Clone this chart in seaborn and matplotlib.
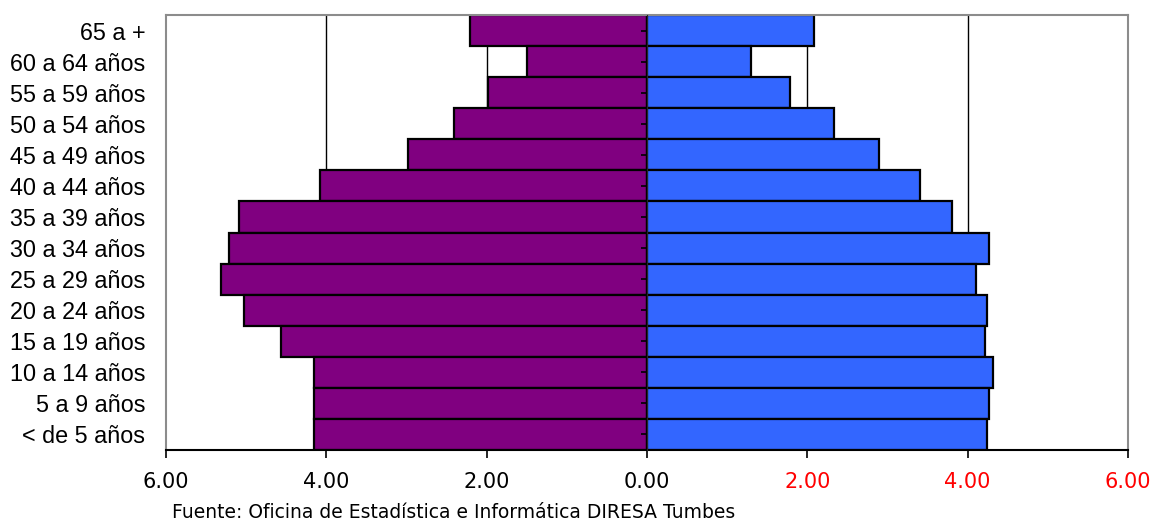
import matplotlib
matplotlib.use("Agg")
import matplotlib.pyplot as plt
import seaborn as sns
import pandas as pd

# Data (top to bottom)
grupos = ["65 a +", "60 a 64 años", "55 a 59 años", "50 a 54 años", "45 a 49 años",
          "40 a 44 años", "35 a 39 años", "30 a 34 años", "25 a 29 años", "20 a 24 años",
          "15 a 19 años", "10 a 14 años", "5 a 9 años", "< de 5 años"]
mujeres = [2.21, 1.50, 1.98, 2.41, 2.98, 4.08, 5.09, 5.21, 5.32, 5.03, 4.57, 4.16, 4.16, 4.16]
hombres = [2.08, 1.30, 1.79, 2.33, 2.89, 3.41, 3.80, 4.26, 4.11, 4.24, 4.22, 4.31, 4.26, 4.24]
x_ticks = [-6, -4, -2, 0, 2, 4, 6]
fuente = "Fuente: Oficina de Estadística e Informática DIRESA Tumbes"

df = pd.DataFrame({"grupo": grupos, "mujeres": [-v for v in mujeres], "hombres": hombres})

sns.set_style("white")
plt.rcParams["font.family"] = ["DejaVu Sans"]
plt.rcParams["text.color"] = "black"
plt.rcParams["xtick.color"] = "black"
plt.rcParams["ytick.color"] = "black"
plt.rcParams["xtick.labelcolor"] = "black"
plt.rcParams["ytick.labelcolor"] = "black"

fig = plt.figure(figsize=(11.54, 5.21), dpi=100)
ax = fig.add_axes([166 / 1154, 1 - 450 / 521, (1128 - 166) / 1154, (450 - 15) / 521])

# grid lines behind bars
for xv in [-4, -2, 2, 4]:
    ax.axvline(xv, color="black", lw=1.0, zorder=0)

sns.barplot(data=df, y="grupo", x="mujeres", color="#800080", width=1.0,
            edgecolor="black", linewidth=1.6, saturation=1, ax=ax, zorder=2)
sns.barplot(data=df, y="grupo", x="hombres", color="#3366FF", width=1.0,
            edgecolor="black", linewidth=1.6, saturation=1, ax=ax, zorder=2)

ax.set_xlim(-6, 6)
ax.set_ylim(len(grupos) - 0.5, -0.5)
ax.set_xlabel("")
ax.set_ylabel("")

# x ticks
ax.set_xticks(x_ticks)
ax.set_xticklabels([f"{abs(v):.2f}" for v in x_ticks], fontsize=15, family="DejaVu Sans")
for lab, v in zip(ax.get_xticklabels(), x_ticks):
    lab.set_color("red" if v > 0 else "black")
ax.tick_params(axis="x", direction="out", length=6, width=1.2, color="black", pad=10, bottom=True)

# y ticks (labels on the left)
ax.set_yticks(range(len(grupos)))
ax.set_yticklabels(grupos, fontsize=16.8, family="Liberation Sans", color="black")
ax.tick_params(axis="y", length=0, pad=15, left=False)

# spines
for s in ["top", "left", "right"]:
    ax.spines[s].set_visible(True)
    ax.spines[s].set_color("#8c8c8c")
    ax.spines[s].set_linewidth(1.5)
ax.spines["bottom"].set_color("black")
ax.spines["bottom"].set_linewidth(1.5)

# center axis with small ticks
sec = ax.secondary_yaxis(0.5)
sec.set_yticks(range(len(grupos)))
sec.set_yticklabels([])
sec.tick_params(axis="y", direction="in", length=4, width=1.2, color="black")
sec.spines["left"].set_color("black")
sec.spines["left"].set_linewidth(1.6)
sec.set_zorder(3)

fig.text(172 / 1154, 1 - 512 / 521, fuente, fontsize=13.5, ha="left", va="center",
         family="DejaVu Sans", color="black")

fig.savefig("out.png", dpi=100)
